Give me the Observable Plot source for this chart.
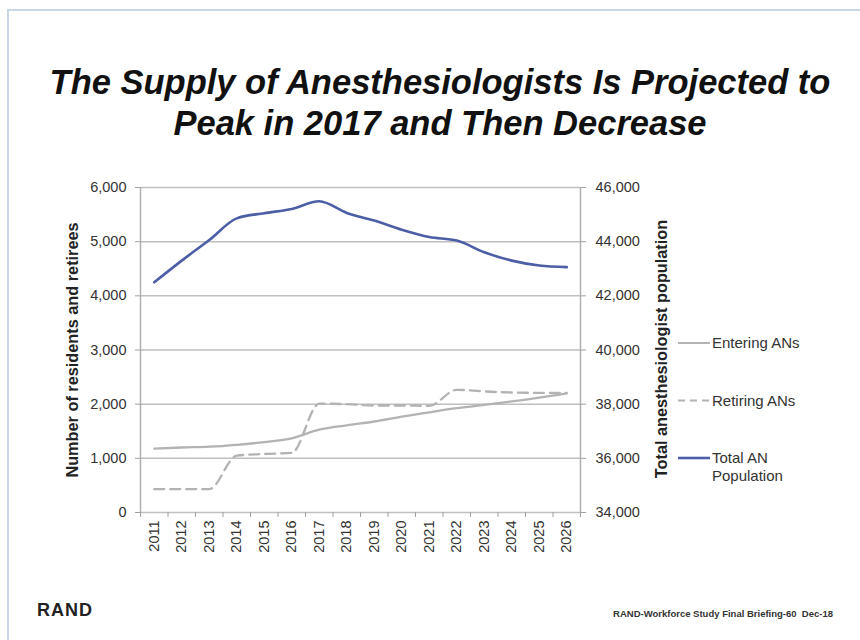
<!DOCTYPE html>
<html><head><meta charset="utf-8">
<script src="https://cdn.jsdelivr.net/npm/d3@7"></script>
<script src="https://cdn.jsdelivr.net/npm/@observablehq/plot@0.6"></script>
<style>
body{margin:0;background:#fff;font-family:"Liberation Sans",Arial,sans-serif;}
#page{position:relative;width:860px;height:640px;overflow:hidden;background:#fff;}
#frame{position:absolute;left:7px;top:9px;right:-5px;bottom:-5px;border-left:2px solid #c9d6e6;border-top:2px solid #c9d6e6;}
#title{position:absolute;left:0;width:880px;top:62px;text-align:center;font-weight:bold;font-style:italic;font-size:34.5px;line-height:41px;color:#111;}
#chart{position:absolute;left:0;top:170px;}
.ytitle{position:absolute;font-weight:bold;font-size:16.3px;color:#222;white-space:nowrap;transform:translate(-50%,-50%) rotate(-90deg);}
#legend{position:absolute;left:670px;top:320px;}
#rand{position:absolute;left:37px;top:600px;font-weight:bold;font-size:18px;letter-spacing:1px;color:#222;}
#foot{position:absolute;right:27px;top:608px;font-weight:bold;font-size:9.5px;color:#333;}
</style></head>
<body>
<div id="page">
  <div id="frame"></div>
  <div id="title">The Supply of Anesthesiologists Is Projected to<br>Peak in 2017 and Then Decrease</div>
  <div id="chart"></div>
  <div class="ytitle" style="left:72px;top:350px;">Number of residents and retirees</div>
  <div class="ytitle" style="left:661px;top:349px;">Total anesthesiologist population</div>
  <div id="legend"></div>
  <div id="rand">RAND</div>
  <div id="foot">RAND-Workforce Study Final Briefing-60&nbsp; Dec-18</div>
</div>
<script>
const years = [2011,2012,2013,2014,2015,2016,2017,2018,2019,2020,2021,2022,2023,2024,2025,2026];
const entering = [1180,1200,1215,1250,1300,1370,1530,1610,1680,1770,1850,1925,1985,2050,2120,2200];
const retiring = [430,430,430,1050,1080,1100,2010,2000,1975,1975,1970,2265,2235,2215,2210,2210];
const totalAN = [42500,43300,44060,44860,45050,45210,45490,45060,44780,44440,44170,44040,43610,43300,43120,43060];
const leftTicks = [0,1000,2000,3000,4000,5000,6000];
const rightTicks = [34000,36000,38000,40000,42000,44000,46000];

const leftDomain = [0, 6000];
const rightDomain = [34000, 46000];
const toLeft = v => leftDomain[0] + (v - rightDomain[0]) * (leftDomain[1]-leftDomain[0]) / (rightDomain[1]-rightDomain[0]);
const fromLeft = v => rightDomain[0] + (v - leftDomain[0]) * (rightDomain[1]-rightDomain[0]) / (leftDomain[1]-leftDomain[0]);

const data = years.map((y,i)=>({year:y, entering:entering[i], retiring:retiring[i], total:totalAN[i]}));
const bounds = [...years.map(y=>y-0.5), years[years.length-1]+0.5];
const fmt = d3.format(",");

const chart = Plot.plot({
  width: 860, height: 413,
  marginLeft: 140, marginRight: 280, marginTop: 17, marginBottom: 71,
  x: {type: "linear", domain: [years[0]-0.5, years[years.length-1]+0.5]},
  y: {domain: leftDomain},
  style: {fontFamily: "'Liberation Sans', Arial, sans-serif", fontSize: "14.5px", background: "transparent", overflow: "visible"},
  marks: [
    Plot.ruleY(leftTicks, {stroke: "#bfbfbf", strokeWidth: 1.5}),
    Plot.ruleX([bounds[0], bounds[bounds.length-1]], {stroke: "#b0b0b0", strokeWidth: 1.5}),
    Plot.axisY({anchor: "left", ticks: leftTicks, tickFormat: fmt, tickSize: 5, tickPadding: 9, label: null, stroke: "#a0a0a0", fill: "#333"}),
    Plot.axisY({anchor: "right", ticks: rightTicks.map(toLeft), tickFormat: d => fmt(Math.round(fromLeft(d))), tickSize: 5, tickPadding: 10, label: null, stroke: "#a0a0a0", fill: "#333"}),
    Plot.axisX({ticks: bounds, tickFormat: () => "", tickSize: 5, label: null, stroke: "#a0a0a0"}),
    Plot.axisX({ticks: years, tickFormat: d => String(d), tickSize: 0, tickPadding: 8, tickRotate: -90, label: null, fill: "#333"}),
    Plot.line(data, {x: "year", y: "entering", stroke: "#b3b3b3", strokeWidth: 2.3, curve: "monotone-x"}),
    Plot.line(data, {x: "year", y: "retiring", stroke: "#b3b3b3", strokeWidth: 2.3, strokeDasharray: "10,6", curve: "monotone-x"}),
    Plot.line(data, {x: "year", y: d => toLeft(d.total), stroke: "#4b5ea6", strokeWidth: 2.6, curve: "monotone-x"})
  ]
});
document.getElementById("chart").appendChild(chart);

// legend
const legendItems = [
  {label: ["Entering ANs"], stroke: "#b3b3b3", dash: null},
  {label: ["Retiring ANs"], stroke: "#b3b3b3", dash: "7,5"},
  {label: ["Total AN", "Population"], stroke: "#4b5ea6", dash: null}
];
const lsvg = d3.create("svg").attr("width", 180).attr("height", 180)
  .style("font-family", "'Liberation Sans', Arial, sans-serif").style("font-size", "15px");
legendItems.forEach((it, i) => {
  const g = lsvg.append("g").attr("transform", `translate(0,${23 + i*57.5})`);
  g.append("line").attr("x1", 8).attr("x2", 40).attr("y1", 0).attr("y2", 0)
    .attr("stroke", it.stroke).attr("stroke-width", it.stroke === "#4b5ea6" ? 2.6 : 2)
    .attr("stroke-dasharray", it.dash);
  it.label.forEach((t, j) => g.append("text").attr("x", 42).attr("y", 5 + j*18).attr("fill", "#333").text(t));
});
document.getElementById("legend").appendChild(lsvg.node());
</script>
</body></html>
